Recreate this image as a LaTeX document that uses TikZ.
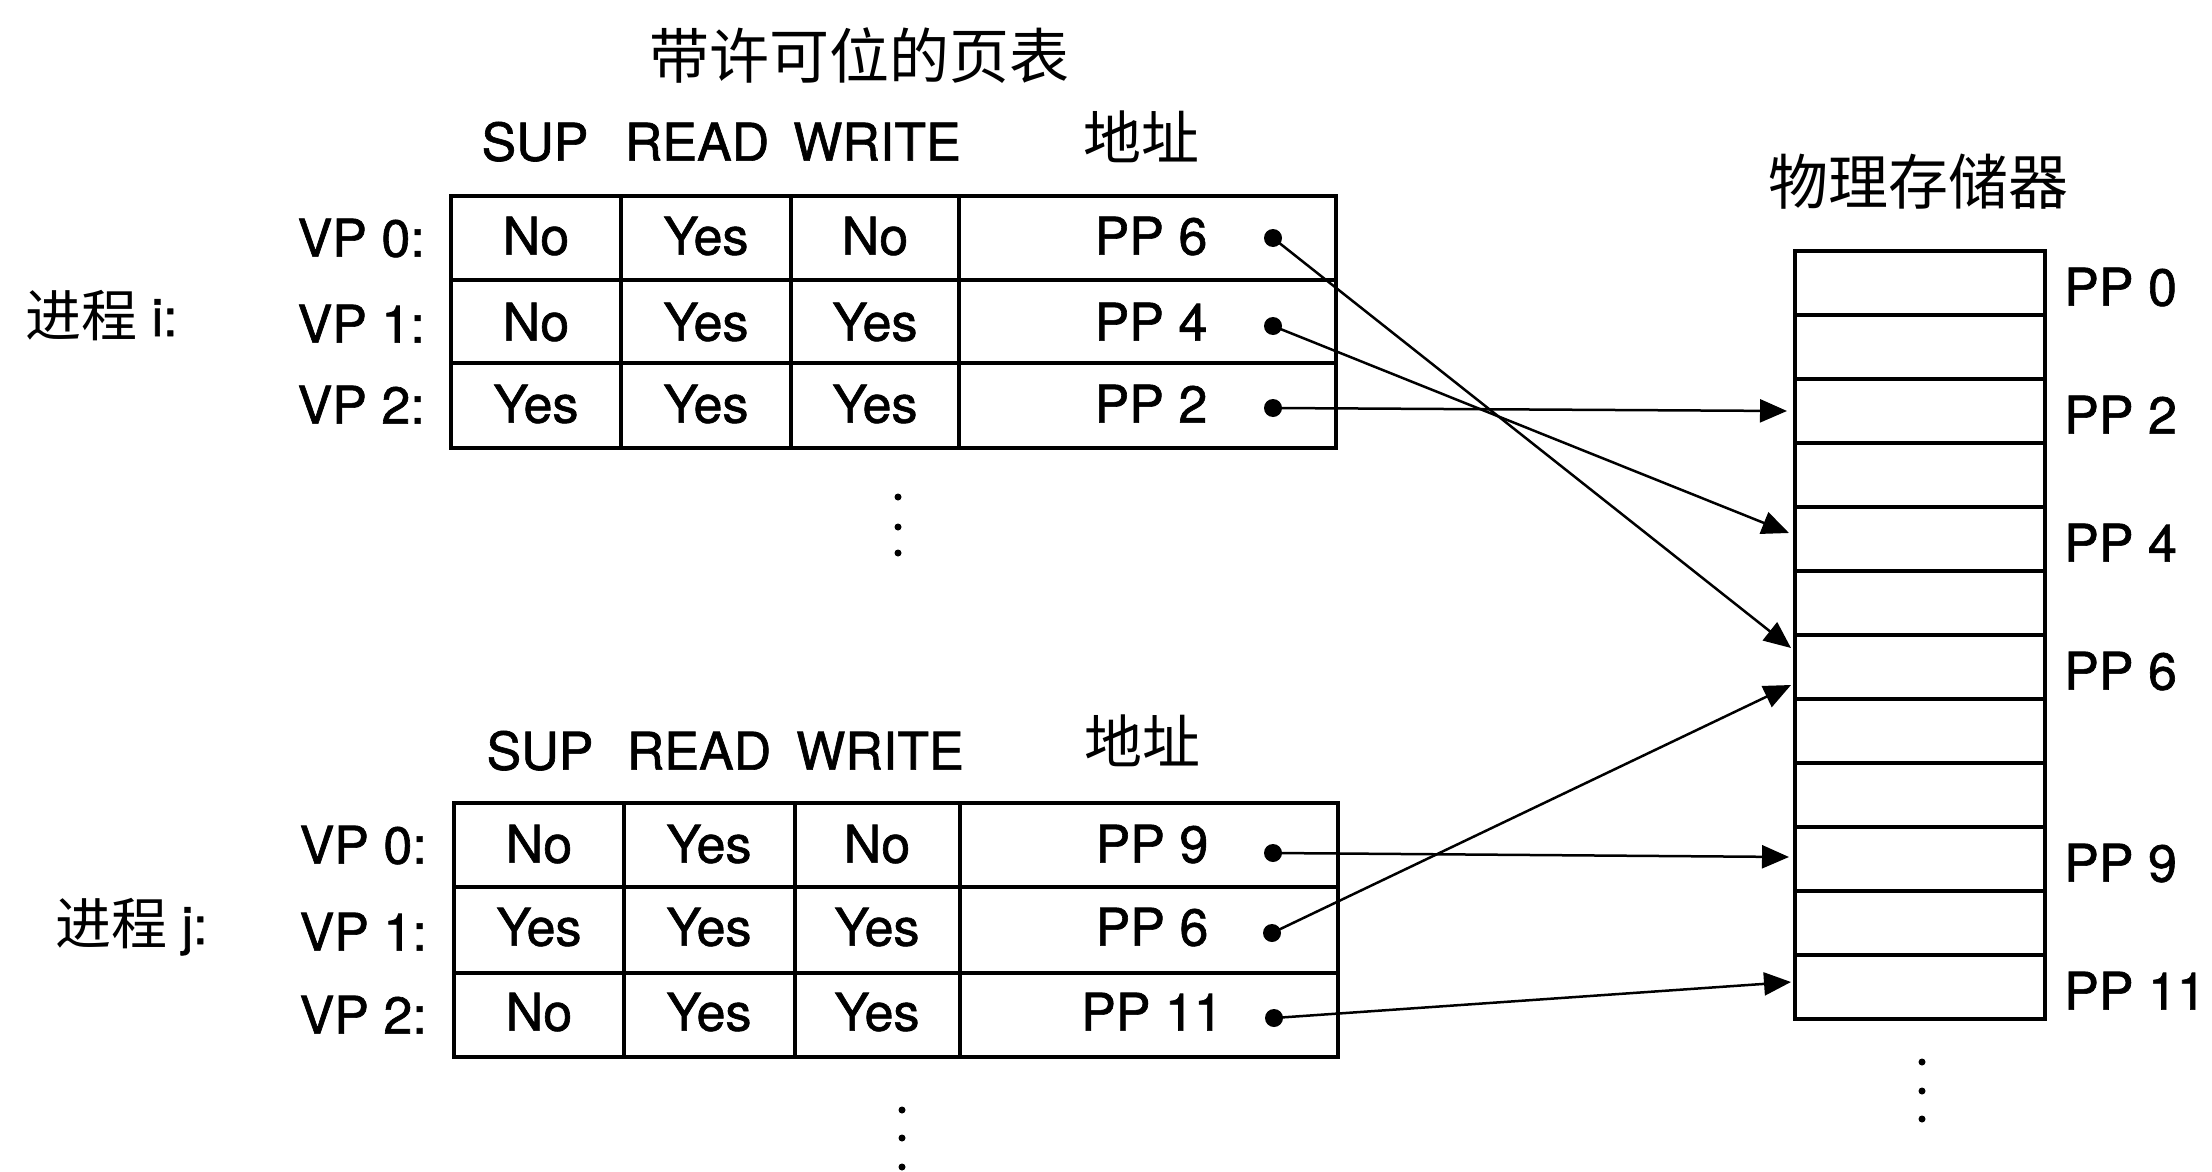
\documentclass[tikz,border=0pt]{standalone}
\usepackage{fontspec}
\setmainfont[FakeBold=1.2]{TeX Gyre Heros}
\newfontfamily\cjk{Noto Sans CJK SC}
\usetikzlibrary{arrows.meta,calc}
\begin{document}
\begin{tikzpicture}[x=1pt,y=-1pt,
  lat/.style={font=\fontsize{52}{60}\selectfont, text height=37.3pt, text depth=0pt, inner sep=0pt},
  cjkt/.style={font=\fontsize{60}{70}\selectfont\cjk, inner sep=0pt, anchor=base},
  tline/.style={line width=3.4pt},
  conn/.style={line width=2.5pt, -{Triangle[length=27pt,width=23pt]}},
  dotn/.style={circle, fill, inner sep=0pt, minimum size=18pt},
  vdot/.style={circle, fill, inner sep=0pt, minimum size=7pt},
  memrow/.style={draw, line width=3.4pt, minimum width=250pt, minimum height=64pt, inner sep=0pt, outer sep=0pt},
  proc/.style={font=\fontsize{52}{60}\selectfont, inner sep=0pt, anchor=base west}
]
\useasboundingbox (0,0) rectangle (2212,1172);

% titles
\node[cjkt] (title) at (859,79) {带许可位的页表};
\node[cjkt] (memtitle) at (1918,204) {物理存储器};

% ---------- process i ----------
\node[lat] (isup) at (535,142) {SUP};
\node[lat] (iread) at (697,142) {READ};
\node[lat] (iwrite) at (877,142) {WRITE};
\node[cjkt, font=\fontsize{58}{70}\selectfont\cjk] (iaddr) at (1141,159) {地址};

\draw[tline] (451,196) rectangle (1336,448);
\foreach \x in {621,791,959} \draw[tline] (\x,196) -- (\x,448);
\foreach \y in {280,363} \draw[tline] (451,\y) -- (1336,\y);

\node[proc] (proci) at (25,336) {{\cjk\fontsize{56}{60}\selectfont 进程} i:};
\node[lat, anchor=east] (ivp0) at (425,238) {VP 0:};
\node[lat, anchor=east] (ivp1) at (425,324) {VP 1:};
\node[lat, anchor=east] (ivp2) at (425,405) {VP 2:};

\foreach \a/\b/\c/\d/\y/\r in {No/Yes/No/PP 6/236/0, No/Yes/Yes/PP 4/322/1, Yes/Yes/Yes/PP 2/404/2} {
  \node[lat] (isup\r) at (536,\y) {\a};
  \node[lat] (iread\r) at (706,\y) {\b};
  \node[lat] (iwrite\r) at (875,\y) {\c};
  \node[lat] (iaddr\r) at (1151,\y) {\d};
}
\node[dotn] (id0) at (1273,238) {};
\node[dotn] (id1) at (1273,326) {};
\node[dotn] (id2) at (1273,408) {};

\node[vdot] (ivd1) at (898,497) {};
\node[vdot] (ivd2) at (898,527) {};
\node[vdot] (ivd3) at (898,553) {};

% ---------- process j ----------
\node[lat] (jsup) at (540,751) {SUP};
\node[lat] (jread) at (699,751) {READ};
\node[lat] (jwrite) at (880,751) {WRITE};
\node[cjkt, font=\fontsize{58}{70}\selectfont\cjk] (jaddr) at (1142,763) {地址};

\draw[tline] (454,803) rectangle (1338,1057);
\foreach \x in {624,795,960} \draw[tline] (\x,803) -- (\x,1057);
\foreach \y in {887,973} \draw[tline] (454,\y) -- (1338,\y);

\node[proc] (procj) at (55,944) {{\cjk\fontsize{56}{60}\selectfont 进程} j:};
\node[lat, anchor=east] (jvp0) at (427,845) {VP 0:};
\node[lat, anchor=east] (jvp1) at (427,932) {VP 1:};
\node[lat, anchor=east] (jvp2) at (427,1015) {VP 2:};

\foreach \a/\b/\c/\d/\y/\r in {No/Yes/No/PP 9/844/0, Yes/Yes/Yes/PP 6/927/1, No/Yes/Yes/PP 11/1012/2} {
  \node[lat] (jsup\r) at (539,\y) {\a};
  \node[lat] (jread\r) at (709,\y) {\b};
  \node[lat] (jwrite\r) at (877,\y) {\c};
  \node[lat] (jaddr\r) at (1152,\y) {\d};
}
\node[dotn] (jd0) at (1273,853) {};
\node[dotn] (jd1) at (1272,933) {};
\node[dotn] (jd2) at (1274,1018) {};

\node[vdot] (jvd1) at (902,1110) {};
\node[vdot] (jvd2) at (902,1138) {};
\node[vdot] (jvd3) at (902,1167) {};

% ---------- physical memory ----------
\foreach \i in {0,...,11} \node[memrow] (m\i) at (1920,{283+64*\i}) {};
\foreach \i/\t in {0/PP 0, 2/PP 2, 4/PP 4, 6/PP 6, 9/PP 9, 11/PP 11}
  \node[lat, anchor=west] (ml\i) at (2064,{287+64*\i}) {\t};

\node[vdot] (mvd1) at (1922,1062) {};
\node[vdot] (mvd2) at (1922,1091) {};
\node[vdot] (mvd3) at (1922,1119) {};

% ---------- connectors ----------
\draw[conn] (id0.center) -- ($(m6.west)+(-4,-19)$);
\draw[conn] (id1.center) -- ($(m4.west)+(-6,-6)$);
\draw[conn] (id2.center) -- ($(m2.west)+(-8,0)$);
\draw[conn] (jd0.center) -- ($(m9.west)+(-6,-2)$);
\draw[conn] (jd1.center) -- ($(m6.west)+(-4,18)$);
\draw[conn] (jd2.center) -- ($(m11.west)+(-4,-5)$);
\end{tikzpicture}
\end{document}
